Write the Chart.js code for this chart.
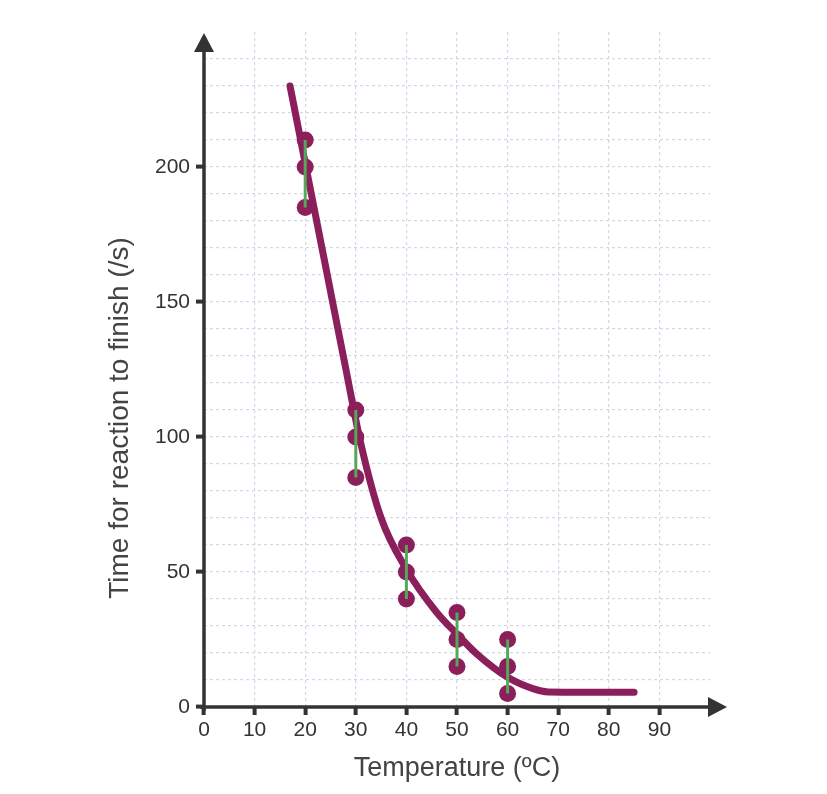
<!DOCTYPE html>
<html>
<head>
<meta charset="utf-8">
<script src="https://cdn.jsdelivr.net/npm/chart.js@4.4.1/dist/chart.umd.min.js"></script>
<style>
  html, body { margin: 0; padding: 0; background: #fff; }
  #wrap { width: 827px; height: 794px; position: relative; }
</style>
</head>
<body>
<div id="wrap"><canvas id="rateChart"></canvas></div>
<script>
// temperatures where the reaction was timed, three repeats each
const temps = [20, 30, 40, 50, 60];
const trialHigh = [210, 110, 60, 35, 25];
const trialMid = [200, 100, 50, 25, 15];
const trialLow = [185, 85, 40, 15, 5];

// line of best fit
const fitX = [17, 20, 24, 28, 31, 35, 40, 46, 50, 54, 60, 65, 68, 75, 85];
const fitY = [230, 201.5, 163.5, 125.5, 97.5, 70, 51, 35, 27, 19.5, 11, 6.8, 5.6, 5.5, 5.5];

const xTickLabels = ['0', '10', '20', '30', '40', '50', '60', '70', '80', '90'];
const yTickLabels = ['0', '50', '100', '150', '200'];

const MAROON = '#8a1f5c';
const GREEN = '#55a85a';
const INK = '#333333';
const FONT = '"Liberation Sans", Arial, sans-serif';

/* =========================
   ARROWED AXES + Y TITLE
========================= */

const arrowAxesPlugin = {
  id: 'arrowAxes',
  afterDatasetsDraw(chart) {
    const { ctx, chartArea } = chart;
    const x0 = chart.scales.x.getPixelForValue(0);
    const y0 = chart.scales.y.getPixelForValue(0);

    ctx.save();
    ctx.strokeStyle = INK;
    ctx.fillStyle = INK;
    ctx.lineWidth = 3.5;

    // y axis
    ctx.beginPath();
    ctx.moveTo(x0, y0 + 4);
    ctx.lineTo(x0, chartArea.top + 18);
    ctx.stroke();
    ctx.beginPath();
    ctx.moveTo(x0, chartArea.top + 1);
    ctx.lineTo(x0 - 10, chartArea.top + 20);
    ctx.lineTo(x0 + 10, chartArea.top + 20);
    ctx.closePath();
    ctx.fill();

    // x axis
    ctx.beginPath();
    ctx.moveTo(x0 - 4, y0);
    ctx.lineTo(chartArea.right + 2, y0);
    ctx.stroke();
    ctx.beginPath();
    ctx.moveTo(chartArea.right + 17, y0);
    ctx.lineTo(chartArea.right - 2, y0 - 10);
    ctx.lineTo(chartArea.right - 2, y0 + 10);
    ctx.closePath();
    ctx.fill();

    // y title sits lower than the scale centre in the original
    ctx.translate(120, 418);
    ctx.rotate(-Math.PI / 2);
    ctx.font = '28px ' + FONT;
    ctx.fillStyle = '#444';
    ctx.textAlign = 'center';
    ctx.textBaseline = 'middle';
    ctx.fillText('Time for reaction to finish (/s)', 0, 0);

    ctx.restore();
  }
};

function createChart() {

  const canvas = document.getElementById('rateChart');
  const ctx = canvas.getContext('2d');

  const errorBars = temps.map((t, i) => ({
    label: 'range ' + t,
    data: [{ x: t, y: trialLow[i] }, { x: t, y: trialHigh[i] }],
    borderColor: GREEN,
    borderWidth: 3,
    pointRadius: 0,
    fill: false,
    order: 0
  }));

  const trials = [];
  temps.forEach((t, i) => {
    trials.push({ x: t, y: trialHigh[i] });
    trials.push({ x: t, y: trialMid[i] });
    trials.push({ x: t, y: trialLow[i] });
  });

  new Chart(ctx, {
    type: 'line',

    data: {
      datasets: [
        ...errorBars,

        {
          label: 'trials',
          data: trials,
          showLine: false,
          pointRadius: 8.5,
          pointBackgroundColor: MAROON,
          pointBorderWidth: 0,
          order: 1
        },

        {
          label: 'best fit',
          data: fitX.map((x, i) => ({ x: x, y: fitY[i] })),
          borderColor: MAROON,
          borderWidth: 7,
          borderCapStyle: 'round',
          borderJoinStyle: 'round',
          cubicInterpolationMode: 'monotone',
          pointRadius: 0,
          fill: false,
          order: 2
        }
      ]
    },

    options: {
      responsive: true,
      maintainAspectRatio: false,
      animation: false,

      layout: {
        padding: { left: 0, right: 117, top: 32, bottom: 0 }
      },

      scales: {
        x: {
          type: 'linear',
          min: 0,
          max: 100,
          afterFit: (scale) => { scale.height = 87; },
          border: { display: false, dash: [3, 3] },
          grid: {
            color: (c) => (c.tick.value > 0 && c.tick.value < 100) ? '#d6d6ea' : 'transparent',
            lineWidth: 1.2,
            tickColor: (c) => c.tick.value <= 90 ? INK : 'transparent',
            tickLength: 8,
            tickWidth: 4
          },
          ticks: {
            stepSize: 10,
            autoSkip: false,
            maxRotation: 0,
            padding: 3,
            color: INK,
            font: { family: FONT, size: 21 },
            callback: (v) => xTickLabels.includes(String(v)) ? String(v) : ''
          },
          title: {
            display: true,
            text: 'Temperature (ºC)',
            color: '#444',
            font: { family: FONT, size: 27 },
            padding: { top: 0, bottom: 9 }
          }
        },

        y: {
          min: 0,
          max: 250,
          afterFit: (scale) => { scale.width = 204; },
          border: { display: false, dash: [3, 3] },
          grid: {
            color: (c) => (c.tick.value > 0 && c.tick.value < 250) ? '#d6d6ea' : 'transparent',
            lineWidth: 1.2,
            tickColor: (c) => yTickLabels.includes(String(c.tick.value)) ? INK : 'transparent',
            tickLength: 8,
            tickWidth: 4
          },
          ticks: {
            stepSize: 10,
            autoSkip: false,
            padding: 6,
            color: INK,
            font: { family: FONT, size: 21 },
            callback: (v) => yTickLabels.includes(String(v)) ? String(v) : ''
          }
        }
      },

      plugins: {
        legend: { display: false },
        tooltip: { enabled: false }
      }
    },

    plugins: [
      arrowAxesPlugin
    ]
  });
}

createChart();
</script>
</body>
</html>
